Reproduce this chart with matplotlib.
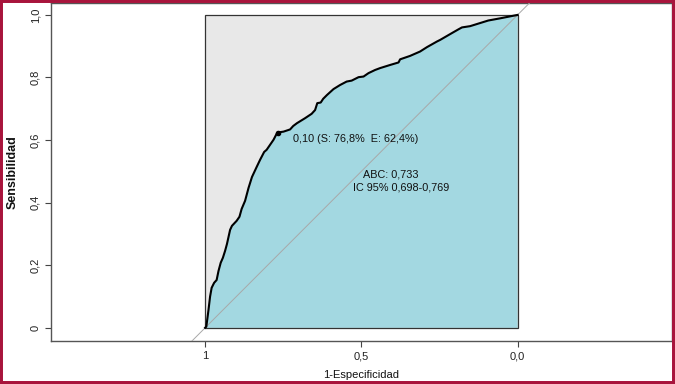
import matplotlib
matplotlib.use("Agg")
import matplotlib.pyplot as plt
import matplotlib.patches as patches

plt.rcParams['font.family'] = ['Liberation Sans', 'DejaVu Sans']

# ROC curve (specificity, sensitivity)
specificity = [1.000, 0.996, 0.989, 0.984, 0.979, 0.971, 0.963, 0.957, 0.950, 0.943,
               0.936, 0.930, 0.920, 0.914, 0.899, 0.890, 0.883, 0.872, 0.861, 0.850,
               0.835, 0.824, 0.811, 0.803, 0.792, 0.781, 0.769, 0.749, 0.728, 0.718,
               0.706, 0.680, 0.659, 0.648, 0.641, 0.630, 0.622, 0.610, 0.589, 0.568,
               0.547, 0.531, 0.509, 0.493, 0.477, 0.456, 0.440, 0.408, 0.381, 0.376,
               0.344, 0.312, 0.290, 0.258, 0.248, 0.210, 0.189, 0.178, 0.152, 0.094,
               0.056, 0.000]
sensitivity = [0.000, 0.004, 0.058, 0.100, 0.128, 0.144, 0.153, 0.182, 0.208, 0.224,
               0.246, 0.268, 0.313, 0.326, 0.342, 0.355, 0.380, 0.406, 0.447, 0.482,
               0.514, 0.537, 0.562, 0.569, 0.585, 0.601, 0.624, 0.627, 0.634, 0.645,
               0.654, 0.670, 0.684, 0.696, 0.718, 0.720, 0.732, 0.744, 0.763, 0.776,
               0.787, 0.790, 0.801, 0.803, 0.814, 0.824, 0.830, 0.840, 0.848, 0.858,
               0.869, 0.883, 0.897, 0.915, 0.920, 0.942, 0.954, 0.960, 0.964, 0.982,
               0.989, 1.000]

# best threshold point
threshold_spec = 0.768
threshold_sens = 0.624
threshold_label = "0,10 (S: 76,8%  E: 62,4%)"
auc_label = "ABC: 0,733"
ci_label = "IC 95% 0,698-0,769"

x_ticks = [1.0, 0.5, 0.0]
x_ticklabels = ["1", "0,5", "0,0"]
y_ticks = [0.0, 0.2, 0.4, 0.6, 0.8, 1.0]
y_ticklabels = ["0", "0,2", "0,4", "0,6", "0,8", "1,0"]

fig = plt.figure(figsize=(6.75, 3.84), dpi=100)
ax = fig.add_axes([51 / 675, 43 / 384, 621 / 675, 338 / 384])

ax.set_xlim(1.493, -0.494)
ax.set_ylim(-0.042, 1.038)

# grey background of the unit square, blue area under the curve
ax.add_patch(patches.Rectangle((0, 0), 1, 1, facecolor='#E8E8E8', edgecolor='none', zorder=1))
ax.fill_between(specificity, sensitivity, 0, facecolor='#A3D8E1', edgecolor='none', zorder=2)
ax.add_patch(patches.Rectangle((0, 0), 1, 1, facecolor='none', edgecolor='#333333',
                               linewidth=0.9, zorder=4))

# chance line
ax.axline((1, 0), (0, 1), color='#A8A8A8', linewidth=0.7, zorder=3)

ax.plot(specificity, sensitivity, color='black', linewidth=1.5, zorder=5)
ax.plot([threshold_spec], [threshold_sens], 'o', color='black', markersize=3, zorder=6)

ax.text(0.718, 0.604, threshold_label, fontsize=7.8, ha='left', va='center', color='#111111')
ax.text(0.405, 0.489, auc_label, fontsize=7.8, ha='center', va='center', color='#111111')
ax.text(0.374, 0.447, ci_label, fontsize=7.8, ha='center', va='center', color='#111111')

ax.set_xticks(x_ticks)
ax.set_xticklabels(x_ticklabels)
ax.set_yticks(y_ticks)
ax.set_yticklabels(y_ticklabels, rotation=90, va='center')
ax.tick_params(axis='both', length=4.5, width=0.8, color='#444444', labelsize=8,
               labelcolor='#222222')
ax.tick_params(axis='x', pad=3)
ax.tick_params(axis='y', pad=3)

for spine in ax.spines.values():
    spine.set_color('#555555')
    spine.set_linewidth(1.0)

ax.set_xlabel("1-Especificidad", fontsize=8, color='#111111')
ax.xaxis.set_label_coords(0.5, -0.087)
ax.set_ylabel("Sensibilidad", fontsize=9, fontweight='bold', color='#111111')
ax.yaxis.set_label_coords(-0.052, 0.5)

# maroon frame round the whole picture
fig.patches.append(patches.Rectangle((0, 0), 1, 1, transform=fig.transFigure, fill=False,
                                     edgecolor='#A8143C', linewidth=4.3, zorder=10))

fig.savefig("out.png", dpi=100)
